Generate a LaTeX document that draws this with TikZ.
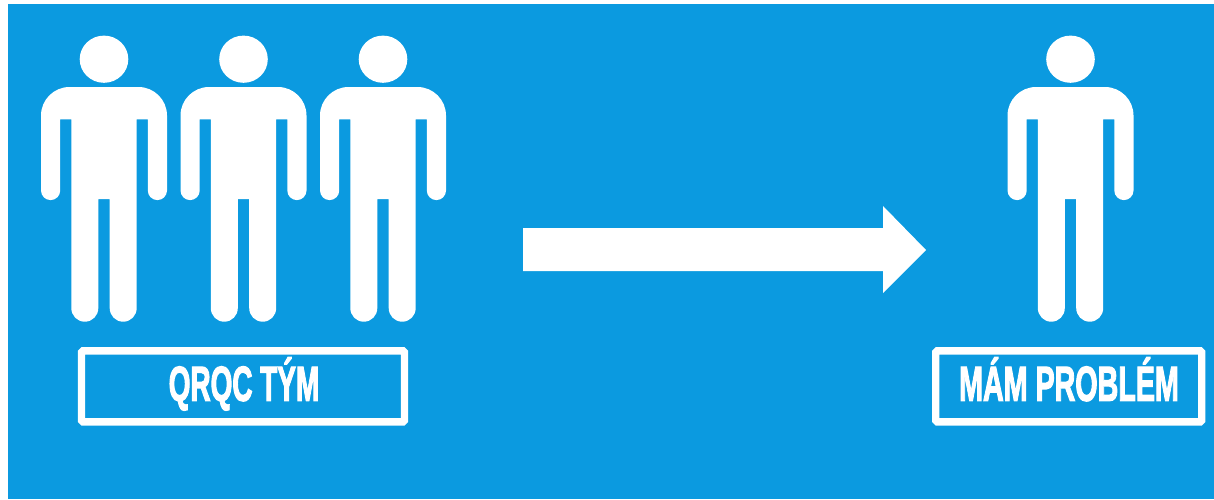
\documentclass[tikz,border=0pt]{standalone}
\usepackage{fontspec}
\newfontfamily\labelfont[FakeBold=3]{Liberation Sans Bold}
\definecolor{skyblue}{HTML}{0B9AE0}
\tikzset{
  x=1pt,y=-1pt,
  framebox/.style={draw=white,line width=7.4pt,rounded corners=1.5pt,fill=none,inner sep=0pt,outer sep=0pt},
  caption/.style={text=white,inner sep=0pt,outer sep=0pt,anchor=base,font=\labelfont\fontsize{49}{49}\selectfont},
  solidshape/.style={fill=white,draw=none}
}
\newcommand{\personfig}[1]{%
  \begin{scope}[shift={(#1,0)}]
    \fill[solidshape] (0,59.2) ellipse [x radius=24.3, y radius=23.6];
    \fill[solidshape] (-34.5,87) -- (34.5,87)
      .. controls (50.2,87) and (63,99.8) .. (63,115.5)
      -- (63,190.5)
      .. controls (63,195.8) and (58.7,200.1) .. (53.4,200.1)
      .. controls (48.1,200.1) and (43.8,195.8) .. (43.8,190.5)
      -- (43.8,119.3) -- (32.7,119.3) -- (32.7,308)
      .. controls (32.7,315.6) and (26.8,321.7) .. (19.2,321.7)
      .. controls (11.6,321.7) and (5.7,315.6) .. (5.7,308)
      -- (5.7,199) -- (-5.7,199) -- (-5.7,308)
      .. controls (-5.7,315.6) and (-11.6,321.7) .. (-19.2,321.7)
      .. controls (-26.8,321.7) and (-32.7,315.6) .. (-32.7,308)
      -- (-32.7,119.3) -- (-43.8,119.3) -- (-43.8,190.5)
      .. controls (-43.8,195.8) and (-48.1,200.1) .. (-53.4,200.1)
      .. controls (-58.7,200.1) and (-63,195.8) .. (-63,190.5)
      -- (-63,115.5)
      .. controls (-63,99.8) and (-50.2,87) .. (-34.5,87)
      -- cycle;
  \end{scope}}
\begin{document}
\begin{tikzpicture}
  \useasboundingbox (0,0) rectangle (1214,499);
  \fill[skyblue] (7.5,4.3) rectangle (1214,499);
  \personfig{104}
  \personfig{243.5}
  \personfig{383}
  \personfig{1070.5}
  \fill[solidshape] (523,228) -- (883,228) -- (883,206) -- (926,250) -- (883,293) -- (883,271) -- (523,271) -- cycle;
  \node[framebox,minimum width=323pt,minimum height=71pt] (teambox) at (243,386.3) {};
  \node[framebox,minimum width=266pt,minimum height=71pt] (problembox) at (1068.7,386.3) {};
  \node[caption] (team) at (244,400.7) {\scalebox{0.57}[1]{QRQC TÝM}};
  \node[caption] (problem) at (1069,400.7) {\scalebox{0.585}[1]{MÁM PROBLÉM}};
\end{tikzpicture}
\end{document}
